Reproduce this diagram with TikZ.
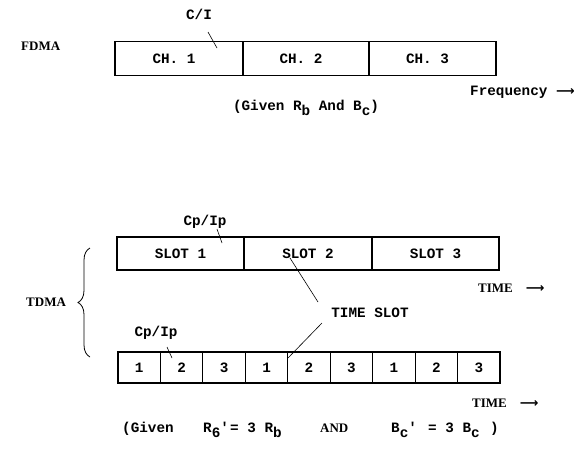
\documentclass[tikz,border=0pt]{standalone}
\usepackage{fontspec}
\setmainfont{Liberation Serif}
\newfontfamily\tw{Liberation Mono}
\newfontfamily\arrowfont{DejaVu Sans}
\usetikzlibrary{decorations.pathreplacing}
\newcommand{\lowsub}[1]{\raisebox{-5pt}{#1}}
\newcommand{\rarr}{{\arrowfont\bfseries\fontsize{13}{13}\selectfont ⟶}}
\tikzset{
  x=1pt, y=-1pt,
  mono/.style={font=\tw\bfseries\fontsize{14.3}{16}\selectfont, inner sep=0pt},
  serifb/.style={font=\bfseries\fontsize{13}{15}\selectfont, inner sep=0pt},
  cell/.style={draw, line width=1.1pt, minimum height=34pt, inner sep=0pt,
    font=\tw\bfseries\fontsize{14.3}{16}\selectfont},
  celltext/.style={label={[mono, xshift=-5pt]center:#1}},
  leader/.style={line width=0.6pt},
}
\begin{document}
\begin{tikzpicture}
\useasboundingbox (0,0) rectangle (587,451);

% ---------------- FDMA ----------------
\node[serifb, anchor=west] (fdma) at (21,46) {FDMA};
\node[cell, minimum width=128pt, celltext={CH. 1}] (ch1) at (179,58.5) {};
\node[cell, minimum width=126pt, celltext={CH. 2}] (ch2) at (306,58.5) {};
\node[cell, minimum width=127pt, celltext={CH. 3}] (ch3) at (432.5,58.5) {};
\node[mono] (ci) at (199,14) {C/I};
\coordinate (ciA) at (208,32);
\coordinate (ciB) at (217,48);
\draw[leader] (ciA) -- (ciB);
\node[mono, anchor=west] (freq) at (470,92) {Frequency \rarr};
\node[mono, anchor=base] (givenA) at (306,110) {(Given R\lowsub{b} And B\lowsub{c})};

% ---------------- TDMA ----------------
\node[serifb, anchor=west] (tdma) at (26,302) {TDMA};
\coordinate (brB) at (90,357);
\coordinate (brT) at (90,248);
\draw[line width=0.8pt, decorate, decoration={brace, amplitude=12pt}] (brB) -- (brT);

% frame of three slots
\node[cell, minimum width=127pt, minimum height=33pt] (s1) at (180.5,253.5) {SLOT 1};
\node[cell, minimum width=128pt, minimum height=33pt] (s2) at (308,253.5) {SLOT 2};
\node[cell, minimum width=127pt, minimum height=33pt] (s3) at (435.5,253.5) {SLOT 3};
\node[mono] (cpA) at (205,222) {Cp/Ip};
\coordinate (cpA1) at (217,229);
\coordinate (cpA2) at (222,243);
\draw[leader] (cpA1) -- (cpA2);
\node[serifb, anchor=west] (timeA) at (478,288) {TIME\quad\rarr};

% time slot callout
\node[mono] (ts) at (370,313) {TIME SLOT};
\coordinate (tsA1) at (290,258);
\coordinate (tsA2) at (318,302);
\coordinate (tsB1) at (322,323);
\coordinate (tsB2) at (288,358);
\draw[leader] (tsA1) -- (tsA2);
\draw[leader] (tsB1) -- (tsB2);

% nine short slots
\foreach \i/\t in {0/1,1/2,2/3,3/1,4/2,5/3,6/1,7/2,8/3}{
  \node[cell, minimum width=42.45pt, minimum height=31pt] (b\i) at ({118+42.45*\i+21.22},367.5) {\t};
}
\node[mono] (cpB) at (156,333) {Cp/Ip};
\coordinate (cpB1) at (167,347);
\coordinate (cpB2) at (172,358);
\draw[leader] (cpB1) -- (cpB2);
\node[serifb, anchor=west] (timeB) at (472,403) {TIME\quad\rarr};

% given line
\node[mono, anchor=base west] (g1) at (122,432) {(Given};
\node[mono, anchor=base west] (g2) at (203,432) {R\lowsub{6}'};
\node[mono, anchor=base west] (g3) at (230,432) {= 3 R\lowsub{b}};
\node[serifb, anchor=base west] (g4) at (320,432) {AND};
\node[mono, anchor=base west] (g5) at (391,432) {B\lowsub{c}'};
\node[mono, anchor=base west] (g6) at (428,432) {= 3 B\lowsub{c}};
\node[mono, anchor=base west] (g7) at (490,432) {)};
\end{tikzpicture}
\end{document}
